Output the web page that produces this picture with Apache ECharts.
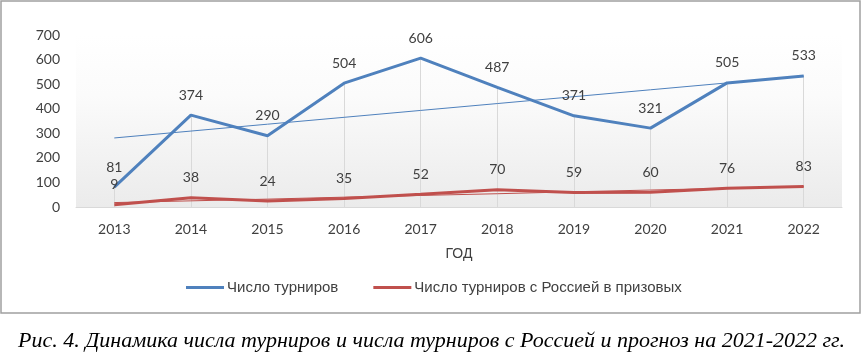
<!DOCTYPE html>
<html><head><meta charset="utf-8">
<script src="https://cdn.jsdelivr.net/npm/echarts@6/dist/echarts.min.js"></script>
<style>html,body{margin:0;padding:0;background:#fff}#c{width:863px;height:355px}</style>
</head><body><div id="c"></div>
<script>
const years = ['2013','2014','2015','2016','2017','2018','2019','2020','2021','2022'];
const tournaments = [81, 374, 290, 504, 606, 487, 371, 321, 505, 533];
const withRussia = [9, 38, 24, 35, 52, 70, 59, 60, 76, 83];
const tournamentsTrend = [281, 309, 337, 365, 393, 421, 449, 477, 505, 533];
const withRussiaTrend = [18, 25, 32, 40, 47, 54, 62, 69, 76, 83];
const yTicks = [0, 100, 200, 300, 400, 500, 600, 700];
const seriesNames = ['Число турниров', 'Число турниров с Россией в призовых'];
const axisName = 'ГОД';
const caption = 'Рис. 4. Динамика числа турниров и числа турниров с Россией и прогноз на 2021-2022 гг.';

const BLUE = '#4f81bd', RED = '#c0504d';
const numFont = 'Lato, "Liberation Sans", sans-serif';
const textFont = '"Liberation Sans", Arial, sans-serif';

const chart = echarts.init(document.getElementById('c'));
const dropLines = years.map((y, i) => [
  {coord: [y, 0]},
  {coord: [y, Math.max(tournaments[i], withRussia[i])]}
]);
const labelCfg = {show: true, position: 'top', distance: 13, color: '#404040', fontSize: 14, fontFamily: numFont};

chart.setOption({
  animation: false,
  grid: {left: 76, right: 21, top: 35, bottom: 148, show: true, borderWidth: 0,
    backgroundColor: new echarts.graphic.LinearGradient(0, 0, 0, 1, [
      {offset: 0, color: '#ffffff'}, {offset: 0.35, color: '#fbfbfb'}, {offset: 1, color: '#ebebeb'}])},
  xAxis: {type: 'category', data: years, boundaryGap: true,
    axisLine: {lineStyle: {color: '#d9d9d9', width: 1}}, axisTick: {show: false},
    axisLabel: {color: '#404040', fontSize: 14, fontFamily: numFont, margin: 15},
    name: axisName, nameLocation: 'middle', nameGap: 40,
    nameTextStyle: {color: '#404040', fontSize: 14, fontFamily: textFont}},
  yAxis: {type: 'value', min: yTicks[0], max: yTicks[yTicks.length - 1], interval: 100,
    axisLine: {show: false}, axisTick: {show: false}, splitLine: {show: false},
    axisLabel: {color: '#404040', fontSize: 14, fontFamily: numFont, margin: 16}},
  legend: {data: seriesNames, left: 181, top: 275, itemWidth: 38, itemHeight: 3, itemGap: 35,
    icon: 'rect', textStyle: {color: '#404040', fontSize: 15, fontFamily: textFont, padding: [0, 0, 0, -2]}},
  title: {text: caption, left: 'center', top: 325,
    textStyle: {fontFamily: 'Liberation Serif, Times New Roman, serif', fontStyle: 'italic', fontWeight: 'normal', fontSize: 22, color: '#000'}},
  graphic: [{type: 'rect', shape: {x: 1, y: 1, width: 859, height: 312},
    style: {fill: 'none', stroke: '#a0a0a0', lineWidth: 1.5}, silent: true}],
  series: [
    {name: 'trend1', type: 'line', data: tournamentsTrend, symbol: 'none', z: 1,
      lineStyle: {color: BLUE, width: 1}, silent: true},
    {name: 'trend2', type: 'line', data: withRussiaTrend, symbol: 'none', z: 1,
      lineStyle: {color: RED, width: 1}, silent: true},
    {name: seriesNames[0], type: 'line', data: tournaments, symbol: 'circle', symbolSize: 0.1, z: 3,
      itemStyle: {color: BLUE}, lineStyle: {color: BLUE, width: 3}, label: labelCfg,
      markLine: {silent: true, symbol: 'none', label: {show: false},
        lineStyle: {color: '#d9d9d9', width: 1, type: 'solid'}, data: dropLines, z: 0}},
    {name: seriesNames[1], type: 'line', data: withRussia, symbol: 'circle', symbolSize: 0.1, z: 3,
      itemStyle: {color: RED}, lineStyle: {color: RED, width: 3}, label: labelCfg}
  ]
});
</script></body></html>
